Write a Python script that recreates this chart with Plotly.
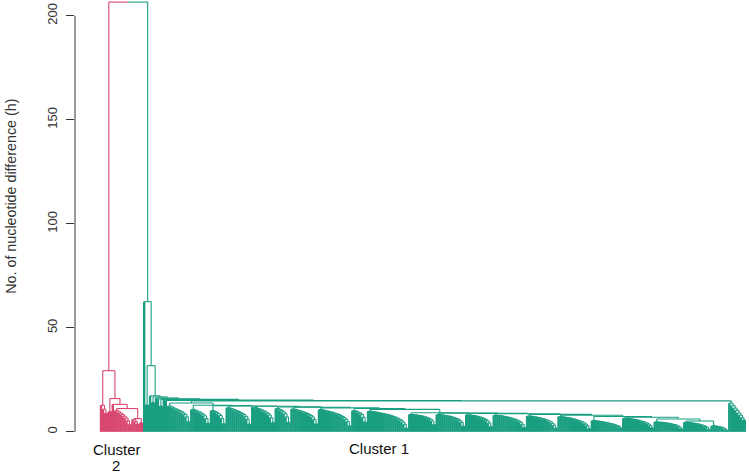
import plotly.graph_objects as go

# merge heights (no. of nucleotide differences)
root_height = 206.6

# cluster 2 (pink): ladder blocks joined left to right along the spine heights
c2_spine = [29.4, 16.0, 13.2, 11.2, 6.4]
c2_blocks = [
    [12.8, 10.9, 9.0],
    [9.8],
    [],
    [10.2, 9.6, 9.0, 8.3, 7.5, 6.6, 5.4, 3.6],
    [5.9, 5.0, 3.8],
    [4.4],
]

# cluster 1 (green): a few tall branches on the left, then the main body + far-right group
c1_top_spine = [62.6, 31.8, 17.3, 16.8, 16.3, 15.9, 15.6, 15.3, 15.1]
c1_top_blocks = [[], [13.0], [], [14.1], [], [], [12.4], [], []]
c1_main_height = 14.9

c1_body_spine = [13.9, 12.8, 12.6, 12.4, 12.3, 12.0, 11.8, 11.5, 11.2, 10.8,
                 9.2, 9.0, 8.9, 8.7, 8.4, 8.0, 7.4, 7.0, 6.2, 5.2]
c1_body_blocks = [
    [12.4, 12.0, 11.5, 11.1, 10.6, 10.2, 9.7, 9.1, 8.4, 7.2, 5.0],
    [10.8, 10.4, 10.0, 9.6, 9.1, 8.5, 7.7, 6.4, 4.2],
    [10.2, 9.8, 9.3, 8.7, 7.9, 6.5, 4.0],
    [11.6, 11.3, 11.0, 10.6, 10.2, 9.8, 9.3, 8.8, 8.2, 7.4, 6.1, 3.8],
    [11.9, 11.6, 11.2, 10.9, 10.5, 10.0, 9.5, 8.9, 8.1, 6.8, 4.5],
    [11.2, 10.8, 10.3, 9.6, 8.7, 7.2, 4.6],
    [11.0, 10.8, 10.5, 10.2, 9.9, 9.6, 9.2, 8.8, 8.4, 7.8, 7.1, 6.0, 3.9],
    [10.7, 10.5, 10.3, 10.1, 9.8, 9.6, 9.3, 9.0, 8.7, 8.3, 7.9, 7.4, 6.8, 6.0, 4.9, 3.0],
    [10.2, 9.9, 9.5, 9.0, 8.3, 7.0, 4.8],
    [9.9, 9.8, 9.6, 9.5, 9.3, 9.1, 8.9, 8.7, 8.5, 8.3, 8.0, 7.7, 7.4, 7.0, 6.6, 6.1, 5.5, 4.7, 3.6, 1.8],
    [8.4, 8.3, 8.2, 8.0, 7.9, 7.7, 7.5, 7.2, 6.9, 6.5, 6.0, 5.2, 3.6],
    [8.3, 8.2, 8.1, 7.9, 7.8, 7.6, 7.4, 7.1, 6.8, 6.4, 6.0, 5.4, 4.5, 2.8],
    [8.2, 8.1, 7.9, 7.8, 7.6, 7.4, 7.1, 6.8, 6.4, 5.9, 5.3, 4.3, 2.6],
    [8.0, 7.9, 7.8, 7.7, 7.5, 7.3, 7.1, 6.9, 6.6, 6.3, 6.0, 5.6, 5.1, 4.5, 3.6, 2.2],
    [7.6, 7.5, 7.4, 7.2, 7.0, 6.8, 6.6, 6.3, 6.0, 5.7, 5.3, 4.8, 4.1, 3.2, 1.9],
    [7.3, 7.2, 7.1, 6.9, 6.8, 6.6, 6.4, 6.1, 5.8, 5.5, 5.2, 4.8, 4.3, 3.7, 2.9, 1.6],
    [5.4, 5.3, 5.2, 5.0, 4.9, 4.7, 4.5, 4.3, 4.1, 3.9, 3.6, 3.3, 3.0, 2.6, 2.0],
    [6.6, 6.5, 6.4, 6.2, 6.1, 5.9, 5.7, 5.5, 5.2, 4.9, 4.6, 4.2, 3.7, 3.0, 2.0],
    [4.8, 4.7, 4.6, 4.5, 4.4, 4.3, 4.1, 3.9, 3.7, 3.5, 3.2, 2.8, 2.3, 1.5],
    [4.6, 4.5, 4.4, 4.3, 4.1, 4.0, 3.8, 3.6, 3.3, 3.0, 2.6, 2.1, 1.3],
    [2.9, 2.8, 2.6, 2.4, 2.2, 1.9, 1.5, 0.9],
]
c1_far_block = [13.8, 12.6, 11.4, 10.3, 9.1, 8.0, 6.8, 5.7]

y_ticks = [0, 50, 100, 150, 200]

PINK = "#D8476F"
GREEN = "#199E80"
FONT = "Arial, Liberation Sans, sans-serif"


def ladder(heights):
    # leaf joins the rest one by one, highest merge first (None = leaf)
    node = None
    for h in reversed(heights):
        node = (None, node, h)
    return node


def chain(parts, spine):
    node = parts[-1]
    for part, h in zip(reversed(parts[:-1]), reversed(spine)):
        node = (part, node, h)
    return node


def add_seg(seg, x0, y0, x1, y1):
    seg[0] += [x0, x1, None]
    seg[1] += [y0, y1, None]


def draw(node, counter, stems, branches):
    # R style: leaves at 0,1,2..., a merge sits midway between its two children
    if node is None:
        x = counter[0]
        counter[0] += 1
        return x, 0.0
    left, right, h = node
    xl, hl = draw(left, counter, stems, branches)
    xr, hr = draw(right, counter, stems, branches)
    add_seg(stems if hl == 0 else branches, xl, hl, xl, h)
    add_seg(stems if hr == 0 else branches, xr, hr, xr, h)
    add_seg(branches, xl, h, xr, h)
    return (xl + xr) / 2, h


c2_tree = chain([ladder(b) for b in c2_blocks], c2_spine)
c1_body = chain([ladder(b) for b in c1_body_blocks], c1_body_spine)
c1_main = (c1_body, ladder(c1_far_block), c1_main_height)
c1_tree = chain([ladder(b) for b in c1_top_blocks] + [c1_main], c1_top_spine)

counter = [0]
p_stem, p_br = [[], []], [[], []]
g_stem, g_br = [[], []], [[], []]
x2, h2 = draw(c2_tree, counter, p_stem, p_br)
x1, h1 = draw(c1_tree, counter, g_stem, g_br)
n_leaves = counter[0]

# the root bar is split in the two cluster colours
mid = (x2 + x1) / 2
add_seg(p_br, x2, h2, x2, root_height)
add_seg(p_br, x2, root_height, mid, root_height)
add_seg(g_br, mid, root_height, x1, root_height)
add_seg(g_br, x1, h1, x1, root_height)

fig = go.Figure()
for seg, color, w in [(p_stem, PINK, 2.4), (p_br, PINK, 1.1),
                      (g_stem, GREEN, 2.4), (g_br, GREEN, 1.1)]:
    fig.add_trace(go.Scatter(x=seg[0], y=seg[1], mode="lines",
                             line=dict(color=color, width=w),
                             hoverinfo="skip", showlegend=False))

# first leaf at 101 px, last leaf at 745 px; plot area starts at 75 px
ML, MR = 75, 3
plot_w = 749 - ML - MR
k = 644 / (n_leaves - 1)
x_lo = -26 / k
x_hi = x_lo + plot_w / k

fig.update_xaxes(visible=False, range=[x_lo, x_hi])
fig.update_yaxes(
    range=[-2, 207.6],
    tickvals=y_ticks,
    ticks="outside",
    ticklen=8,
    tickcolor="#333",
    tickangle=-90,
    ticklabelstandoff=4,
    tickfont=dict(size=13, color="#333", family=FONT),
    showgrid=False,
    zeroline=False,
    showline=False,
)

# R draws the axis line only over the tick range
fig.add_shape(type="line", xref="paper", yref="y", x0=0, x1=0, y0=0, y1=200,
              line=dict(color="#333", width=1))

fig.add_annotation(text="No. of nucleotide difference (h)", xref="paper", yref="y",
                   x=(11 - ML) / plot_w, y=113, textangle=-90, showarrow=False,
                   xanchor="center", yanchor="middle",
                   font=dict(size=14.3, color="#333", family=FONT))
for txt, cx, cy in [("Cluster", 117, 449), ("2", 116, 465.5), ("Cluster 1", 379, 448)]:
    fig.add_annotation(text=txt, xref="paper", yref="paper",
                       x=(cx - ML) / plot_w, y=(436 - cy) / 436, showarrow=False,
                       xanchor="center", yanchor="middle",
                       font=dict(size=15, color="#111", family=FONT))

fig.update_layout(
    width=749,
    height=474,
    plot_bgcolor="white",
    paper_bgcolor="white",
    margin=dict(l=ML, r=MR, t=0, b=38),
)

# drop the browser's default 8px page margin so the figure sits at the window corner
fig.write_html("out.html", config={"displayModeBar": False},
               post_script="document.body.style.margin='0';")
